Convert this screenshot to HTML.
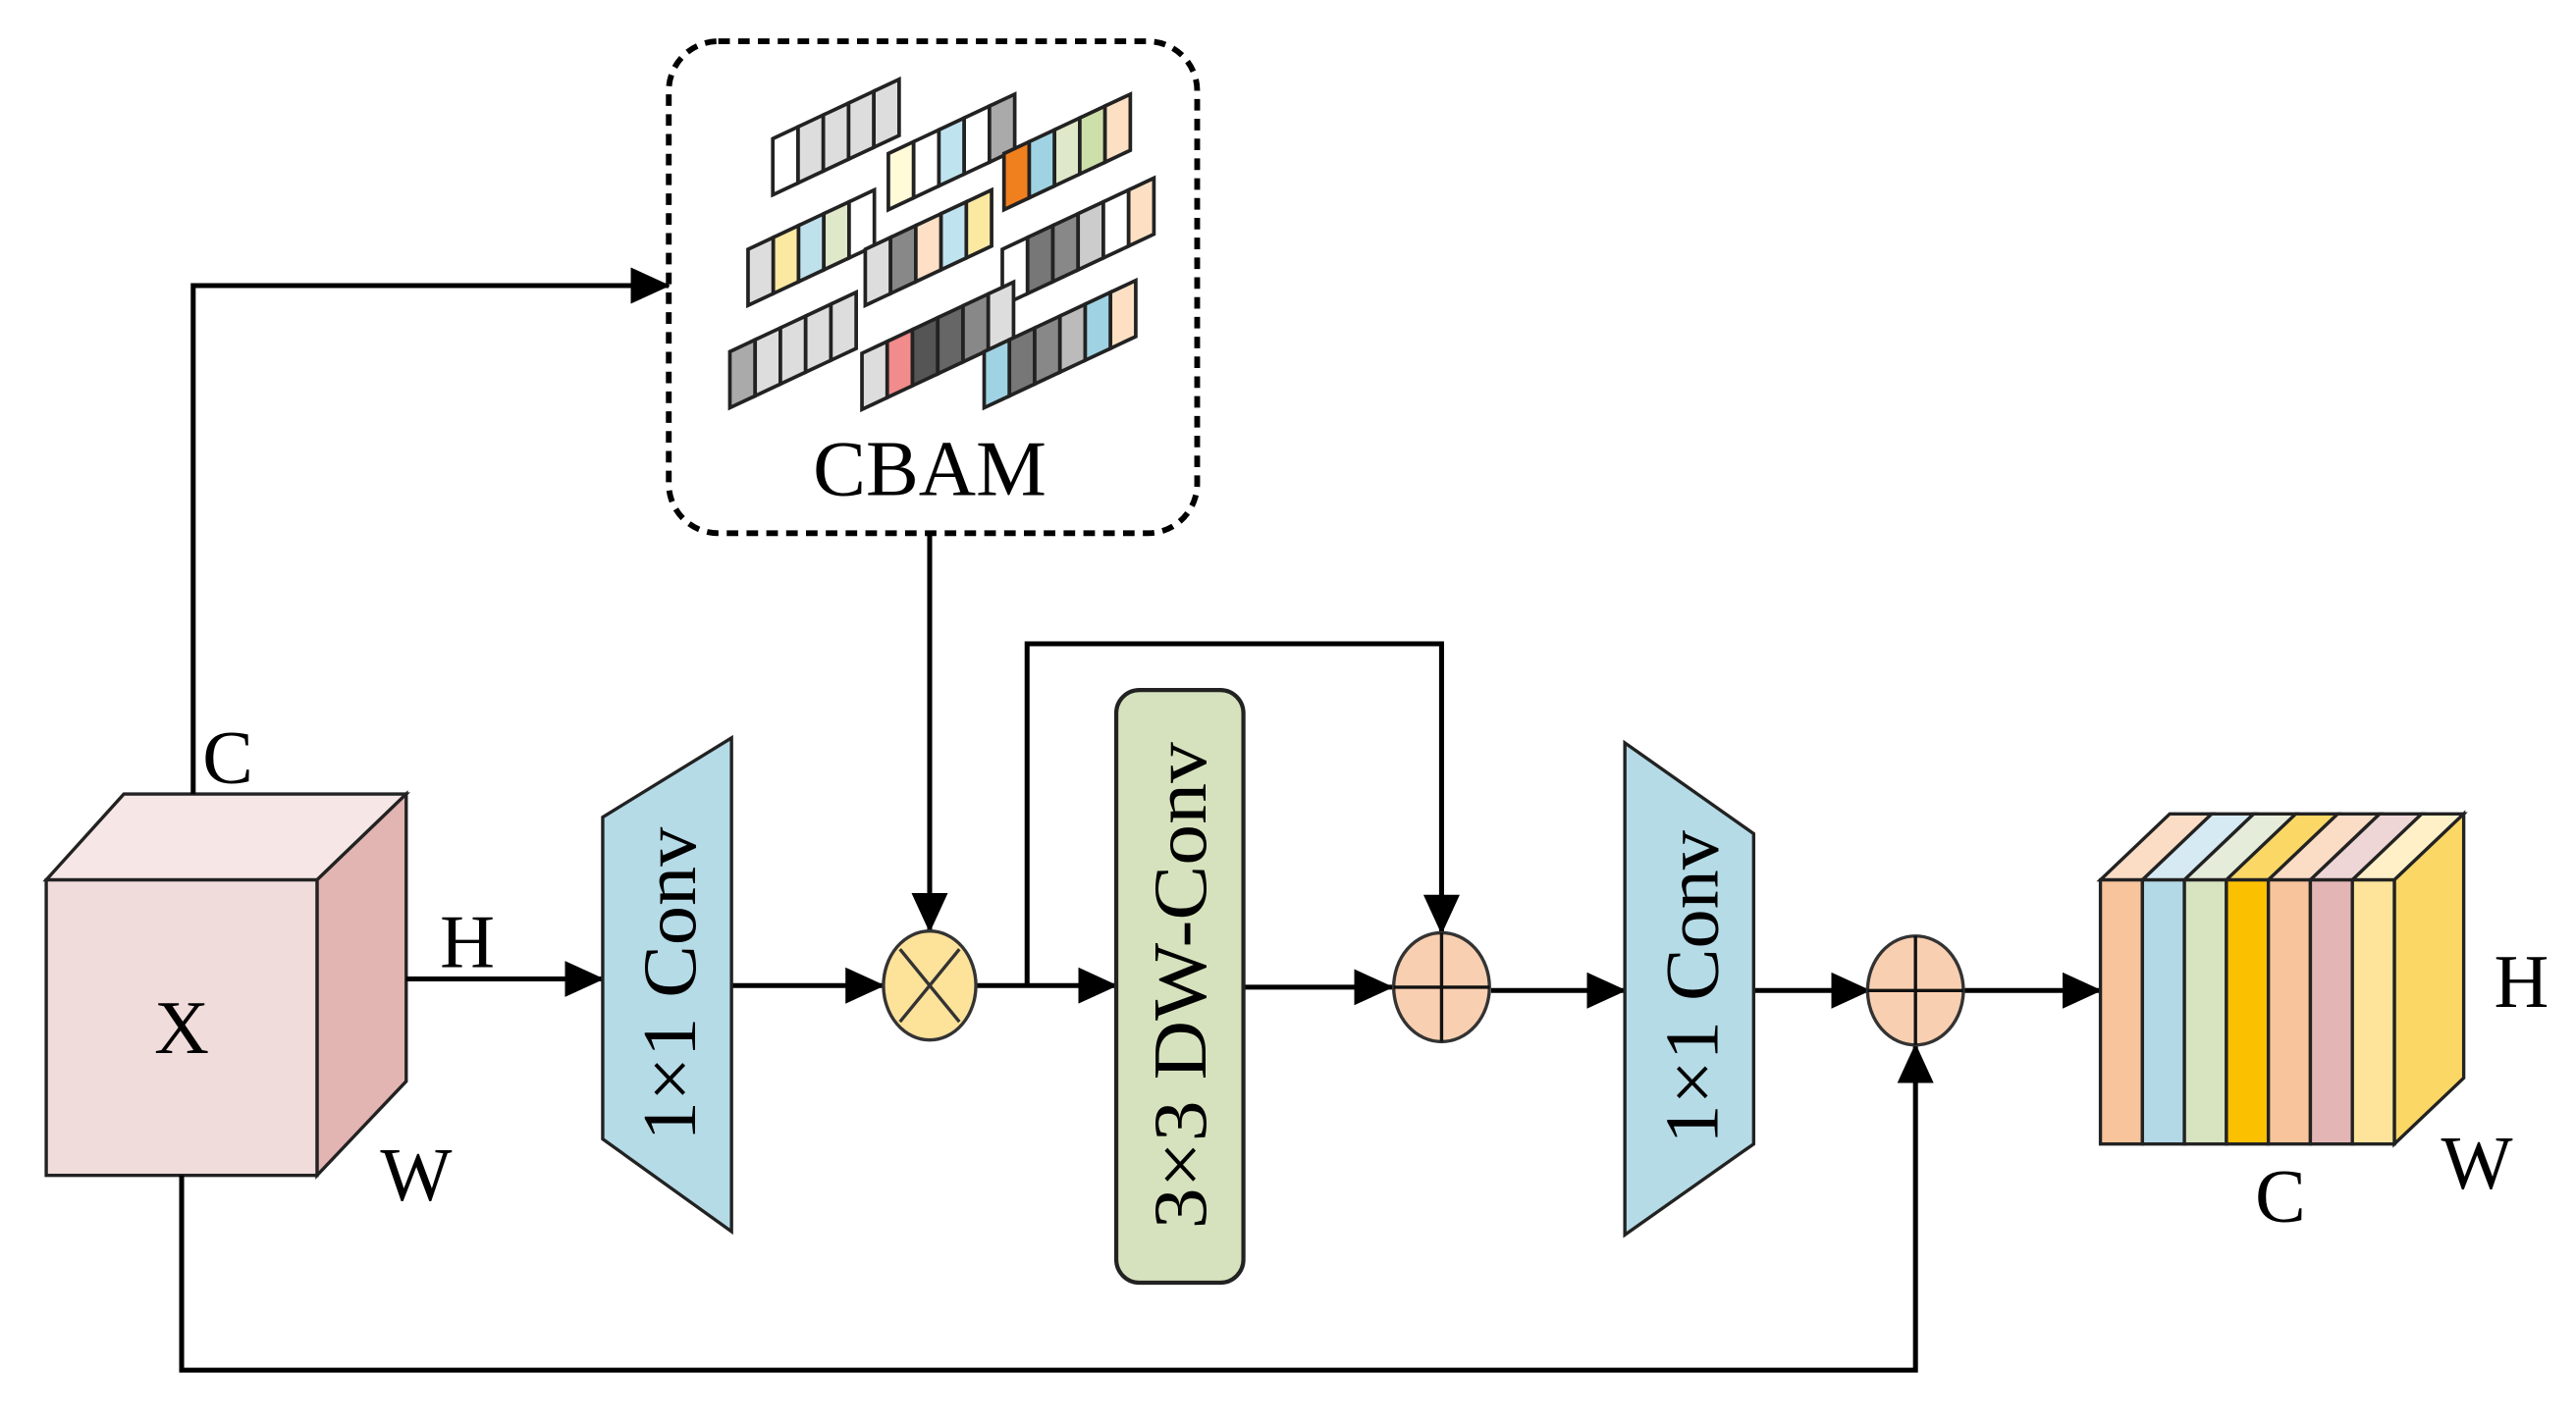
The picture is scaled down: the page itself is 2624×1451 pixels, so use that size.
<!DOCTYPE html>
<html><head><meta charset="utf-8"><style>html,body{margin:0;padding:0;background:#fff}svg{display:block}</style></head>
<body>
<svg width="2624" height="1451" viewBox="0 0 1560 862.6" xmlns="http://www.w3.org/2000/svg" font-family="'Liberation Serif', serif">
<defs>
<marker id="ah" markerWidth="26" markerHeight="24" refX="23" refY="11" orient="auto" markerUnits="userSpaceOnUse">
<path d="M0,0 L24,11 L0,22 Z" fill="#000"/>
</marker>
</defs>
<rect width="1560" height="863" fill="#fff"/>

<!-- CBAM box -->
<rect x="405" y="25" width="320" height="298" rx="30" fill="#fff" stroke="#000" stroke-width="3.5" stroke-dasharray="7,5"/>
<text x="563" y="300" font-size="48" text-anchor="middle">CBAM</text>
<g id="bars" stroke="#222" stroke-width="2.2"></g>

<!-- Cube X -->
<polygon points="28,533 75,481 246,481 192,533" fill="#f6e6e6" stroke="#222" stroke-width="2"/>
<polygon points="192,533 246,481 246,655 192,712" fill="#e2b4b2" stroke="#222" stroke-width="2"/>
<rect x="28" y="533" width="164" height="179" fill="#f1dcdc" stroke="#222" stroke-width="2"/>
<text x="110" y="638" font-size="46" text-anchor="middle">X</text>
<text x="138" y="474" font-size="46" text-anchor="middle">C</text>
<text x="283" y="586" font-size="46" text-anchor="middle">H</text>
<text x="252" y="727" font-size="46" text-anchor="middle">W</text>

<!-- connectors -->
<g fill="none" stroke="#000" stroke-width="3">
<polyline points="117,481 117,173 405,173" marker-end="url(#ah)"/>
<polyline points="563,323 563,564" marker-end="url(#ah)"/>
<polyline points="246,593 365,593" marker-end="url(#ah)"/>
<polyline points="443,597 535,597" marker-end="url(#ah)"/>
<polyline points="591,597 676,597" marker-end="url(#ah)"/>
<polyline points="622,597 622,390 873,390 873,565" marker-end="url(#ah)"/>
<polyline points="753,598 843,598" marker-end="url(#ah)"/>
<polyline points="903,600 984,600" marker-end="url(#ah)"/>
<polyline points="1062,600 1132,600" marker-end="url(#ah)"/>
<polyline points="110,712 110,830 1160,830 1160,633" marker-end="url(#ah)"/>
<polyline points="1188,600 1272,600" marker-end="url(#ah)"/>
</g>

<!-- trapezoid 1 -->
<polygon points="365,495 443,447 443,746 365,690" fill="#b5dbe7" stroke="#222" stroke-width="2"/>
<text transform="translate(421,596) rotate(-90)" font-size="46" text-anchor="middle" textLength="190" lengthAdjust="spacingAndGlyphs">1×1 Conv</text>
<!-- trapezoid 2 -->
<polygon points="984,450 1062,505 1062,693 984,748" fill="#b5dbe7" stroke="#222" stroke-width="2"/>
<text transform="translate(1040,598) rotate(-90)" font-size="46" text-anchor="middle" textLength="190" lengthAdjust="spacingAndGlyphs">1×1 Conv</text>

<!-- DW-Conv -->
<rect x="676" y="418" width="77" height="359" rx="14" fill="#d6e2bd" stroke="#222" stroke-width="2.5"/>
<text transform="translate(730,597) rotate(-90)" font-size="46" text-anchor="middle" textLength="295" lengthAdjust="spacingAndGlyphs">3×3 DW-Conv</text>

<!-- circles -->
<ellipse cx="563" cy="597" rx="28" ry="33" fill="#fde29a" stroke="#333" stroke-width="2"/>
<line x1="545" y1="575" x2="581" y2="619" stroke="#333" stroke-width="2"/>
<line x1="581" y1="575" x2="545" y2="619" stroke="#333" stroke-width="2"/>
<ellipse cx="873" cy="598" rx="29" ry="33" fill="#f8cfb0" stroke="#333" stroke-width="2"/>
<line x1="844" y1="598" x2="902" y2="598" stroke="#111" stroke-width="2"/>
<line x1="873" y1="565" x2="873" y2="631" stroke="#111" stroke-width="2"/>
<ellipse cx="1160" cy="600" rx="29" ry="33" fill="#f8cfb0" stroke="#333" stroke-width="2"/>
<line x1="1131" y1="600" x2="1189" y2="600" stroke="#111" stroke-width="2"/>
<line x1="1160" y1="567" x2="1160" y2="633" stroke="#111" stroke-width="2"/>

<!-- output block -->
<g stroke="#222" stroke-width="2" id="out"></g>
<text x="1527" y="610" font-size="46" text-anchor="middle">H</text>
<text x="1500" y="720" font-size="46" text-anchor="middle">W</text>
<text x="1381" y="740" font-size="46" text-anchor="middle">C</text>

<script>
(function(){
var ns="http://www.w3.org/2000/svg";
var g=document.getElementById('bars');
var bars=[
[468,118,['#fff','#ddd','#ddd','#ddd','#ddd']],
[538,127,['#fffbd9','#fff','#bfe4ef','#fff','#aaa']],
[608,127,['#f07f1e','#9fd3e3','#dfe8c9','#cde0a9','#fde0c4']],
[453,185,['#ddd','#fbe9a2','#bfe1ec','#dfe8c9','#fff']],
[524,185,['#ddd','#888','#fde0c6','#bfe4ef','#fbe9a2']],
[607,185,['#fff','#777','#888','#ccc','#fff','#fde0c4']],
[442,247,['#aaa','#ddd','#ddd','#ddd','#ddd']],
[522,248,['#ddd','#f28b8b','#555','#666','#888','#ddd']],
[596,247,['#9fd3e3','#777','#888','#bbb','#9fd3e3','#fde0c4']]];
var w=15.3,h=34,s=0.47;
bars.forEach(function(b){
 var x=b[0],y=b[1];
 b[2].forEach(function(c,i){
  var x0=x+i*w,x1=x0+w,y0=y-i*w*s,y1=y0-w*s;
  var p=document.createElementNS(ns,'polygon');
  p.setAttribute('points',x0+','+y0+' '+x1+','+y1+' '+x1+','+(y1-h)+' '+x0+','+(y0-h));
  p.setAttribute('fill',c);g.appendChild(p);
 });
});
var o=document.getElementById('out');
var cols=['#f8c49b','#b3d9e6','#d8e3c0','#fbc000','#f8c49b','#e3b5b5','#fee49b'];
var tops=['#fbdcc5','#d5eaf2','#e6ecda','#fbd766','#fbdcc5','#eed6d6','#fff0c8'];
var x0=1272,cw=(1450-1272)/7,dx=42,dy=-40;
for(var i=0;i<7;i++){
 var a=x0+i*cw,b=a+cw;
 var t=document.createElementNS(ns,'polygon');
 t.setAttribute('points',a+',533 '+(a+dx)+','+(533+dy)+' '+(b+dx)+','+(533+dy)+' '+b+',533');
 t.setAttribute('fill',tops[i]);o.appendChild(t);
}
var r=document.createElementNS(ns,'polygon');
r.setAttribute('points','1450,533 1492,493 1492,653 1450,693');r.setAttribute('fill','#fbd766');o.appendChild(r);
for(var i=0;i<7;i++){
 var re=document.createElementNS(ns,'rect');
 re.setAttribute('x',x0+i*cw);re.setAttribute('y',533);re.setAttribute('width',cw);re.setAttribute('height',160);
 re.setAttribute('fill',cols[i]);o.appendChild(re);
}
})();
</script>
</svg>
</body></html>
